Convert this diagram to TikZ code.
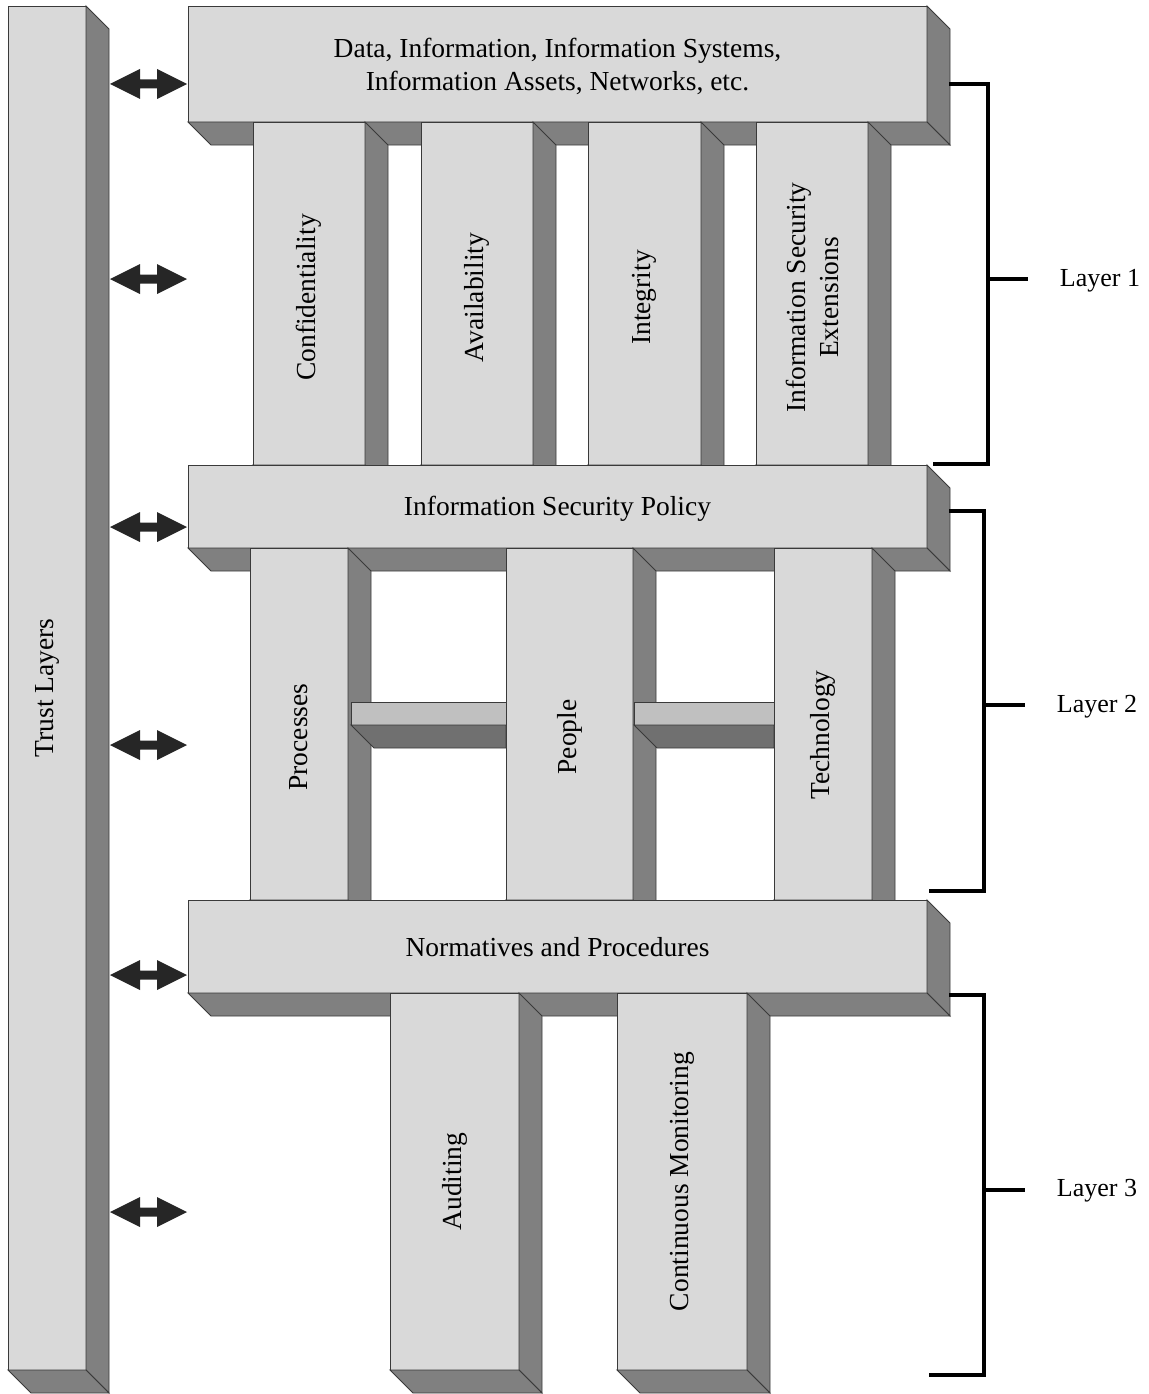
\documentclass[tikz,border=0pt]{standalone}
\usepackage{fontspec}
\setmainfont{Liberation Serif}
\usetikzlibrary{calc}

\definecolor{frontgray}{HTML}{D9D9D9}
\definecolor{sidegray}{HTML}{808080}
\definecolor{edgegray}{HTML}{3A3A3A}
\definecolor{beamfront}{HTML}{C0C0C0}
\definecolor{beamside}{HTML}{707070}
\definecolor{arrowdark}{HTML}{262626}

\newcommand\dep{23}

% A solid block: front face as a named node, right and bottom faces extruded
\newcommand\slab[5]{%
  \node[front, anchor=north west, minimum width={#4-#2}, minimum height={#5-#3}] (#1) at (#2,#3) {};
  \filldraw[side] (#1.north east) -- ++(\dep,\dep) -- ($(#1.south east)+(\dep,\dep)$) -- (#1.south east) -- cycle;
  \filldraw[side] (#1.south west) -- (#1.south east) -- ($(#1.south east)+(\dep,\dep)$) -- ($(#1.south west)+(\dep,\dep)$) -- cycle;
}

\tikzset{
  front/.style={draw=edgegray, fill=frontgray, line width=0.9pt, inner sep=0pt, outer sep=0pt, rectangle},
  side/.style={draw=edgegray, fill=sidegray, line width=0.9pt, line join=miter},
  label/.style={font=\fontsize{27.5}{33}\selectfont, align=center, inner sep=0pt},
  vlabel/.style={label, rotate=90},
  layerlbl/.style={font=\fontsize{26}{31}\selectfont, inner sep=0pt},
  bracket/.style={line width=3.6pt, black, line join=miter},
  dblarrow/.pic={\fill[arrowdark] (0,0) -- (30,-15) -- (30,-4.5) -- (47,-4.5) -- (47,-15) -- (77,0)
                 -- (47,15) -- (47,4.5) -- (30,4.5) -- (30,15) -- cycle;},
}

\begin{document}
\begin{tikzpicture}[x=1pt, y=-1pt]
\useasboundingbox (0,0) rectangle (1148,1394);

% trust bar
\slab{trust}{8}{6}{86}{1370}
\node[vlabel] (trustlbl) at (trust) {Trust Layers};

% layer 1
\slab{data}{188}{6}{927}{122}
\node[label] (datalbl) at ($(data)+(0,2)$) {Data, Information, Information Systems,\\Information Assets, Networks, etc.};
\slab{conf}{253}{122}{365}{465}
\slab{avail}{421}{122}{533}{465}
\slab{integ}{588}{122}{701}{465}
\slab{ext}{756}{122}{868}{465}
\node[vlabel] (conflbl) at ($(conf)+(0,4)$) {Confidentiality};
\node[vlabel] (availlbl) at ($(avail)+(0,4)$) {Availability};
\node[vlabel] (integlbl) at ($(integ)+(0,4)$) {Integrity};
\node[vlabel] (extlbl) at ($(ext)+(0,4)$) {Information Security\\Extensions};

% layer 2
\slab{policy}{188}{465}{927}{548}
\node[label] (policylbl) at ($(policy)+(0,2.5)$) {Information Security Policy};
\slab{proc}{250}{548}{348}{900}
\slab{people}{506}{548}{633}{900}
\slab{tech}{774}{548}{872}{900}
\node[vlabel] (proclbl) at ($(proc)+(0,13)$) {Processes};
\node[vlabel] (peoplelbl) at ($(people)+(0,13)$) {People};
\node[vlabel] (techlbl) at ($(tech)+(0,11)$) {Technology};

% cross beams joining the layer 2 pillars
\node[front, fill=beamfront, anchor=north west, minimum width=155, minimum height=23] (beamA) at (351,702) {};
\filldraw[side, fill=beamside] (beamA.south west) -- (beamA.south east) -- ++(0,23) -- ($(beamA.south west)+(\dep,\dep)$) -- cycle;
\node[front, fill=beamfront, anchor=north west, minimum width=140, minimum height=23] (beamB) at (634,702) {};
\filldraw[side, fill=beamside] (beamB.south west) -- (beamB.south east) -- ++(0,23) -- ($(beamB.south west)+(\dep,\dep)$) -- cycle;

% layer 3
\slab{norms}{188}{900}{927}{993}
\node[label] (normslbl) at ($(norms)+(0,1)$) {Normatives and Procedures};
\slab{audit}{390}{993}{519}{1370}
\slab{monit}{617}{993}{747}{1370}
\node[vlabel] (auditlbl) at (audit) {Auditing};
\node[vlabel] (monitlbl) at (monit) {Continuous Monitoring};

% double arrows between the trust bar and the layers
\foreach \yy [count=\i] in {84,279,527,745,975,1212}
  \pic (arr\i) at (110,\yy) {dblarrow};

% layer brackets
\coordinate (b1a) at (949,84);   \coordinate (b1b) at (933,464);  \coordinate (b1t) at (1028,279);
\coordinate (b2a) at (949,511);  \coordinate (b2b) at (929,891);  \coordinate (b2t) at (1025,705);
\coordinate (b3a) at (949,995);  \coordinate (b3b) at (929,1375); \coordinate (b3t) at (1025,1190);
\draw[bracket] (b1a) -- (988,84) -- (988,464) -- (b1b);
\draw[bracket] (988,279) -- (b1t);
\draw[bracket] (b2a) -- (984,511) -- (984,891) -- (b2b);
\draw[bracket] (984,705) -- (b2t);
\draw[bracket] (b3a) -- (984,995) -- (984,1375) -- (b3b);
\draw[bracket] (984,1190) -- (b3t);
\node[layerlbl] (l1) at (1100,281) {Layer 1};
\node[layerlbl] (l2) at (1097,707) {Layer 2};
\node[layerlbl] (l3) at (1097,1191) {Layer 3};
\end{tikzpicture}
\end{document}
